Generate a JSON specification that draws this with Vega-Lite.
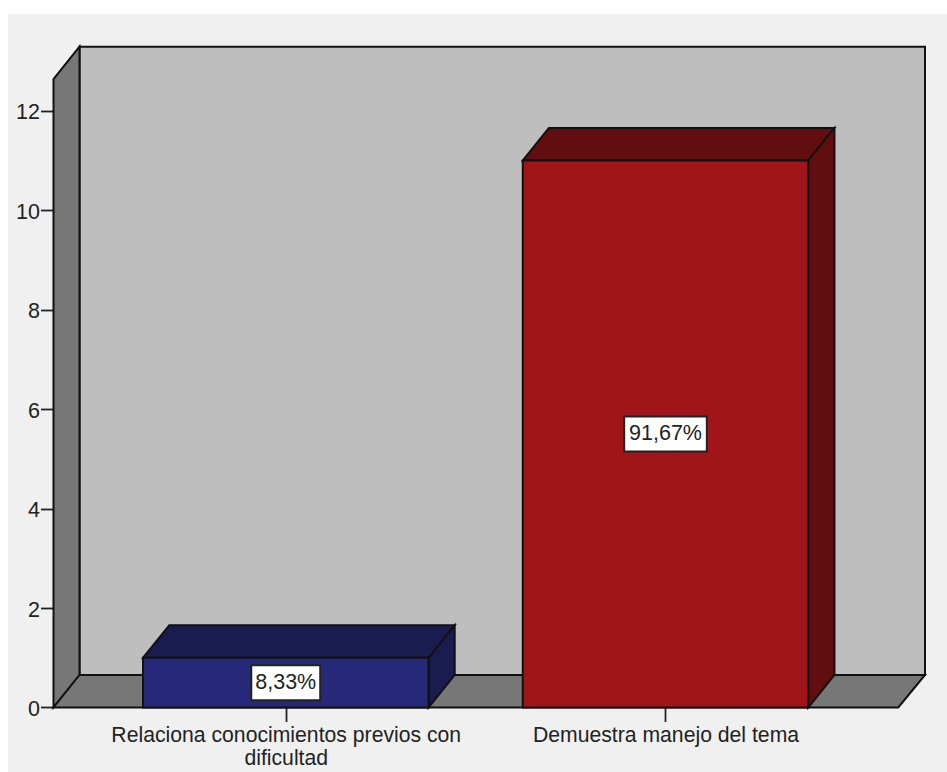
{
"$schema":"https://vega.github.io/schema/vega-lite/v6.json",
"width":939,"height":758,
"padding":{"left":8,"top":14,"right":0,"bottom":0},
"autosize":{"type":"none"},
"background":"#ffffff",
"view":{"fill":"#f0f0f0","stroke":null},
"config":{"font":"Liberation Sans"},
"datasets":{
"shapes":[
{"kind":"v","part":"Pared posterior","x":0.45688,"y":0.6535,"y2":13.288},
{"kind":"v","part":"Pared posterior","x":2.68334,"y":0.6535,"y2":13.288},
{"kind":"v","part":"Pared lateral","x":0.38841,"y":0,"y2":12.634},
{"kind":"v","part":"Pared lateral","x":0.45688,"y":0.6535,"y2":13.288},
{"kind":"h","part":"Suelo","y":0,"x":0.38841,"x2":2.61304},
{"kind":"h","part":"Suelo","y":0.6535,"x":0.45688,"x2":2.68334},
{"kind":"h","part":"Azul techo","y":1,"x":0.6241,"x2":1.3759},
{"kind":"h","part":"Azul techo","y":1.6535,"x":0.6931,"x2":1.4449},
{"kind":"v2","part":"Azul lado","x":1.3759,"y":0,"y2":1},
{"kind":"v2","part":"Azul lado","x":1.4449,"y":0.6535,"y2":1.6535},
{"kind":"h","part":"Rojo techo","y":11,"x":1.6241,"x2":2.3759},
{"kind":"h","part":"Rojo techo","y":11.6535,"x":1.6931,"x2":2.4449},
{"kind":"v2","part":"Rojo lado","x":2.3759,"y":0,"y2":11},
{"kind":"v2","part":"Rojo lado","x":2.4449,"y":0.6535,"y2":11.6535},
{"kind":"f","part":"Azul frente","x":0.6241,"x2":1.3759,"y":0,"y2":1},
{"kind":"f","part":"Rojo frente","x":1.6241,"x2":2.3759,"y":0,"y2":11}
],
"labels":[
{"x":0.9092,"x2":1.0908,"y":0.148,"y2":0.852,"xc":1,"yc":0.5,"label":"8,33%"},
{"x":1.8912,"x2":2.1088,"y":5.148,"y2":5.852,"xc":2,"yc":5.5,"label":"91,67%"}
]
},
"data":{"name":"shapes"},
"encoding":{
"x":{"field":"x","type":"quantitative","scale":{"domain":[0.2686,2.74128],"nice":false,"zero":false},
"axis":{"title":null,"orient":"bottom","offset":-64.5,"domain":false,"grid":false,"values":[1,2],"tickSize":14,"tickWidth":1.8,"tickColor":"#222","labelFontSize":21.2,"labelLineHeight":22.5,"labelColor":"#222","labelPadding":3,"labelLimit":600,"labelFlush":false,"labelBound":false,"labelOverlap":false,"labelExpr":"datum.value==1?['Relaciona conocimientos previos con','dificultad']:'Demuestra manejo del tema'"}},
"y":{"field":"y","type":"quantitative","scale":{"domain":[-1.297,13.945],"nice":false,"zero":false},
"axis":{"title":null,"orient":"left","offset":-45.5,"domain":false,"grid":false,"values":[0,2,4,6,8,10,12],"tickSize":13,"tickWidth":1.8,"tickColor":"#222","labelFontSize":21.5,"labelColor":"#222","labelPadding":1,"labelOffset":2,"labelBound":false,"labelOverlap":false}}
},
"layer":[
{"transform":[{"filter":"datum.kind=='v'"}],
 "mark":{"type":"area","stroke":"#111111","strokeWidth":2},
 "encoding":{"y2":{"field":"y2"},"fill":{"field":"part","type":"nominal","legend":null,"scale":{"domain":["Pared posterior","Pared lateral","Suelo","Azul techo","Azul lado","Azul frente","Rojo techo","Rojo lado","Rojo frente"],"range":["#bebebe","#777777","#777777","#1a1b4f","#1a1b4f","#26297a","#620d0f","#620d0f","#a11417"]}}}},
{"transform":[{"filter":"datum.kind=='h'"}],
 "mark":{"type":"area","orient":"horizontal","stroke":"#111111","strokeWidth":2},
 "encoding":{"x2":{"field":"x2"},"fill":{"field":"part","type":"nominal","legend":null}}},
{"transform":[{"filter":"datum.kind=='v2'"}],
 "mark":{"type":"area","stroke":"#111111","strokeWidth":2},
 "encoding":{"y2":{"field":"y2"},"fill":{"field":"part","type":"nominal","legend":null}}},
{"transform":[{"filter":"datum.kind=='f'"}],
 "mark":{"type":"rect","stroke":"#111111","strokeWidth":2},
 "encoding":{"x2":{"field":"x2"},"y2":{"field":"y2"},"fill":{"field":"part","type":"nominal","legend":null}}},
{"data":{"name":"labels"},
 "mark":{"type":"rect","fill":"#ffffff","stroke":"#222222","strokeWidth":2},
 "encoding":{"x2":{"field":"x2"},"y2":{"field":"y2"}}},
{"data":{"name":"labels"},
 "mark":{"type":"text","fontSize":21.5,"color":"#222222","align":"center","baseline":"middle"},
 "encoding":{"x":{"field":"xc","type":"quantitative"},"y":{"field":"yc","type":"quantitative"},"text":{"field":"label","type":"nominal"}}}
]
}
